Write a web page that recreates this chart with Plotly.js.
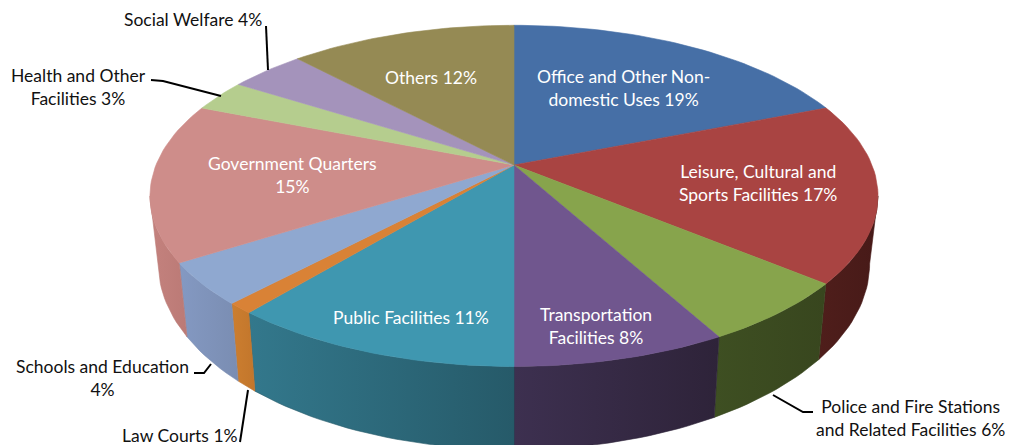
<!DOCTYPE html>
<html><head><meta charset="utf-8">
<script src="https://cdn.plot.ly/plotly-3.0.1.min.js"></script>
<style>html,body{margin:0;padding:0;background:#fff}#c{width:1011px;height:445px}</style>
</head><body><div id="c"></div>
<script>
// ---- data ----
const categories = ["Office and Other Non-domestic Uses","Leisure, Cultural and Sports Facilities","Police and Fire Stations and Related Facilities","Transportation Facilities","Public Facilities","Law Courts","Schools and Education","Government Quarters","Health and Other Facilities","Social Welfare","Others"];
const shares = [19,17,6,8,11,1,4,15,3,4,12];
const labelTexts = ["Office and Other Non-<br>domestic Uses 19%","Leisure, Cultural and<br>Sports Facilities 17%","Police and Fire Stations<br>and Related Facilities 6%","Transportation<br>Facilities 8%","Public Facilities 11%","Law Courts 1%","Schools and Education<br>4%","Government Quarters<br>15%","Health and Other<br>Facilities 3%","Social Welfare 4%","Others 12%"];
// ---- styling ----
const topColors = ["#466fa6","#a94442","#87a44c","#70568e","#3f97b0","#d98236","#8fa8d0","#ce8d8a","#b5cd8e","#a493bb","#958a54"];
const wallLeft  = ["#333","#4f1e1b","#3e4f22","#3d3050","#33788c","#cc7e2f","#8499c2","#c4827e","#333","#333","#333"];
const wallRight = ["#333","#471a18","#38461e","#2e2339","#265a69","#c2762c","#7a8db2","#bb7a76","#333","#333","#333"];
const labelX = [623,758,910,596,411,180,102,292,78,193,431];
const labelY = [88,183,418,326,317,435,378,175,87,19,77];
const labelColor = ["#fff","#fff","#111","#fff","#fff","#111","#111","#fff","#111","#111","#fff"];
const leaderX = [[266,268],[151,163,221],[194,204,211],[240,248],[773,803,813]];
const leaderY = [[26,70],[80,81,96],[373,373,364],[442,390],[395,412,412]];

// ---- projection of a tilted disc ----
const cx=514, cy=165, Rx=358, A=165, k=0.181, shrink=0.977;
const DEG=Math.PI/180;
function topPt(t){const u=Math.sin(t*DEG),v=Math.cos(t*DEG),s=1/(1+k*v);return [cx+Rx*u*s, cy-A*v*s];}
function botPt(t){const p=topPt(t);return [cx+(p[0]-cx)*shrink, 338+1.09*(p[1]-264)];}
function arc(f,a,b){const n=Math.max(2,Math.ceil(Math.abs(b-a)/1.5)),o=[];for(let i=0;i<=n;i++)o.push(f(a+(b-a)*i/n));return o;}

const silhouette=Math.acos(-k)/DEG;      // where the side wall becomes visible
const total=shares.reduce((a,b)=>a+b,0);
let acc=0; const starts=[],ends=[];
shares.forEach(s=>{starts.push(acc/total*360);acc+=s;ends.push(acc/total*360);});

const traces=[];
// side walls
shares.forEach((s,i)=>{
  const a=Math.max(starts[i],silhouette), b=Math.min(ends[i],360-silhouette);
  if(b<=a) return;
  const pts=arc(topPt,a,b).concat(arc(botPt,b,a));
  pts.push(pts[0]);
  traces.push({type:"scatter",mode:"lines",x:pts.map(p=>p[0]),y:pts.map(p=>p[1]),fill:"toself",
    name:categories[i]+" side",line:{width:0.6,color:wallRight[i]},fillcolor:wallRight[i],
    fillgradient:{type:"horizontal",colorscale:[[0,wallLeft[i]],[1,wallRight[i]]]},hoverinfo:"skip"});
});
// top faces
shares.forEach((s,i)=>{
  const pts=[[cx,cy]].concat(arc(topPt,starts[i],ends[i]));pts.push([cx,cy]);
  traces.push({type:"scatter",mode:"lines",x:pts.map(p=>p[0]),y:pts.map(p=>p[1]),fill:"toself",
    name:categories[i],text:s+"%",line:{width:0.6,color:topColors[i]},fillcolor:topColors[i],hoverinfo:"name+text"});
});
// leader lines
leaderX.forEach((xs,i)=>traces.push({type:"scatter",mode:"lines",x:xs,y:leaderY[i],
  line:{width:2,color:"#000"},hoverinfo:"skip"}));

const annotations=labelTexts.map((t,i)=>({xref:"x",yref:"y",x:labelX[i],y:labelY[i],text:t,showarrow:false,
  xanchor:"center",yanchor:"middle",align:"center",font:{family:"Lato, Carlito, sans-serif",size:17.5,color:labelColor[i]}}));

Plotly.newPlot("c",traces,{
  width:1011,height:445,margin:{l:0,r:0,t:0,b:0},showlegend:false,
  paper_bgcolor:"#fff",plot_bgcolor:"#fff",
  xaxis:{range:[0,1011],visible:false,fixedrange:true},
  yaxis:{range:[445,0],visible:false,fixedrange:true},
  annotations:annotations
},{displayModeBar:false});
</script></body></html>
